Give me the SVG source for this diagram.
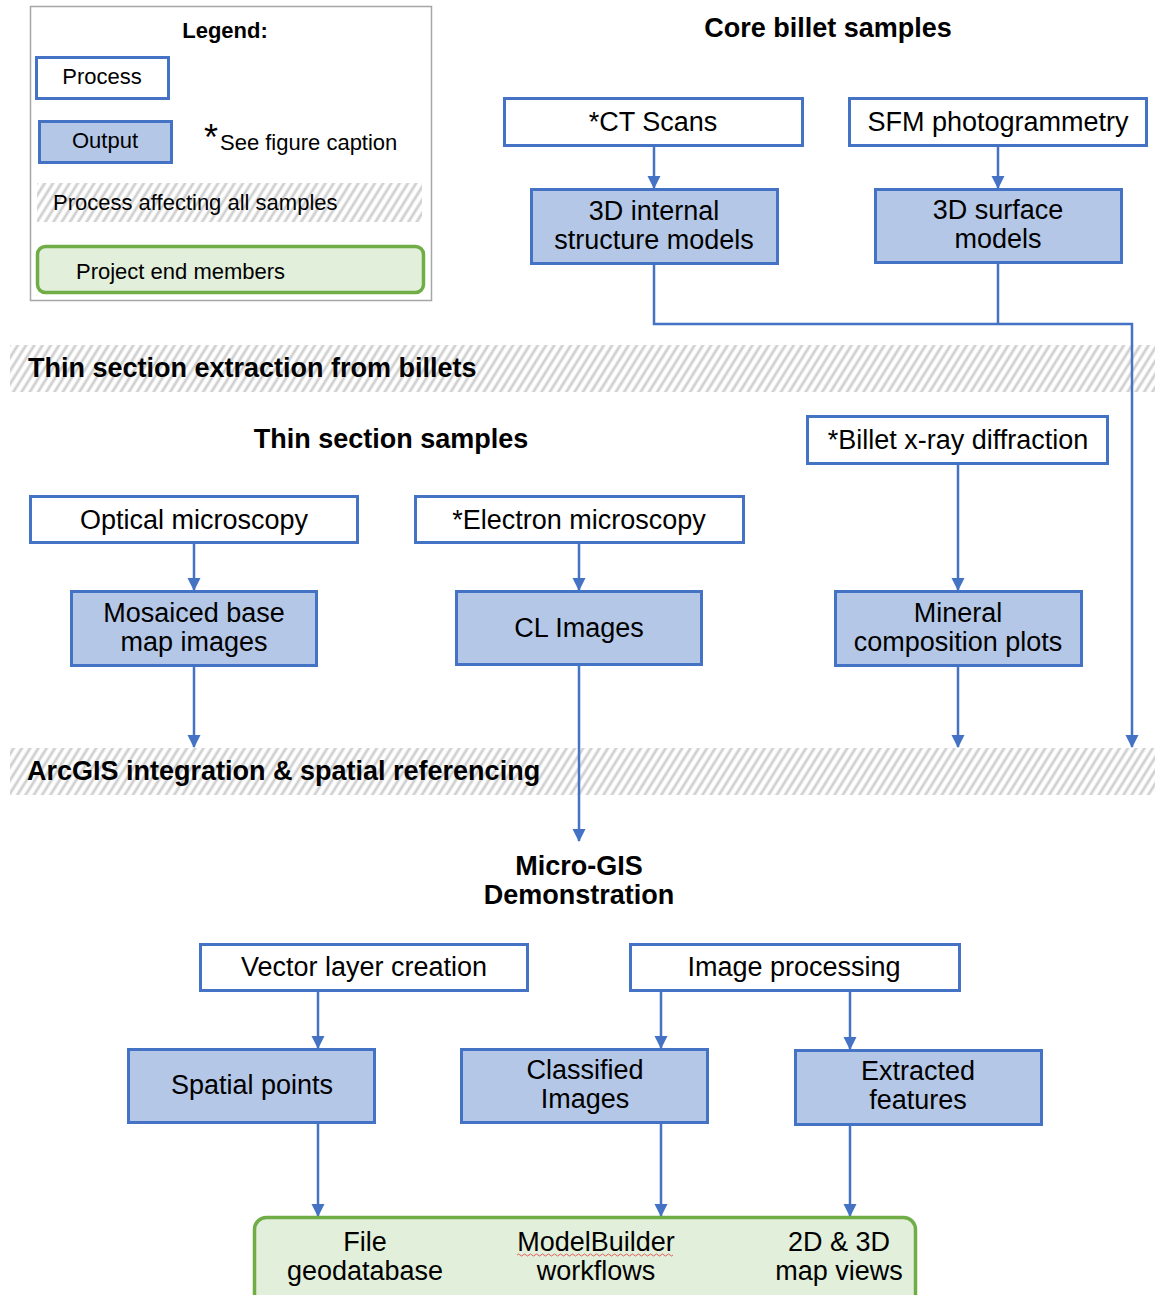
<svg xmlns="http://www.w3.org/2000/svg" width="1155" height="1295" viewBox="0 0 1155 1295">
<style>
.proc{fill:#fff;stroke:#4472C4;stroke-width:3}
.out{fill:#B4C7E7;stroke:#4472C4;stroke-width:3}
.end{fill:#E2EFDA;stroke:#70AD47;stroke-width:3.5}
.t{font-family:"Liberation Sans",Arial,sans-serif;font-size:27px;fill:#000;text-anchor:middle}
.lt{font-family:"Liberation Sans",Arial,sans-serif;font-size:22px;fill:#000}
.h{font-family:"Liberation Sans",Arial,sans-serif;font-size:27px;font-weight:bold;fill:#000}
.h2{font-family:"Liberation Sans",Arial,sans-serif;font-size:27px;font-weight:bold;fill:#000;text-anchor:middle}
.c{fill:none;stroke:#4472C4;stroke-width:2.5}
</style>
<defs>
<pattern id="hatch" patternUnits="userSpaceOnUse" width="7" height="7" patternTransform="rotate(32)">
<rect width="7" height="7" fill="#fff"/>
<line x1="2" y1="0" x2="2" y2="7" stroke="#d0d0d0" stroke-width="2.8"/>
</pattern>
<marker id="ah" markerUnits="userSpaceOnUse" markerWidth="14" markerHeight="14" refX="12" refY="6.5" orient="auto">
<path d="M0,0 L13,6.5 L0,13 Z" fill="#4472C4"/>
</marker>
</defs>

<g id="legend">
<rect x="30.5" y="6.5" width="401" height="294" fill="#fff" stroke="#a6a6a6" stroke-width="1.5"/>
<text class="lt" x="225" y="38" text-anchor="middle" font-weight="bold">Legend:</text>
<rect class="proc" x="36.5" y="57.5" width="132" height="41"/>
<text class="lt" x="102" y="84" text-anchor="middle">Process</text>
<rect class="out" x="39.5" y="121.5" width="132" height="41"/>
<text class="lt" x="105" y="148" text-anchor="middle">Output</text>
<text class="lt" x="204" y="150" style="font-size:36px">*</text>
<text class="lt" x="220" y="150">See figure caption</text>
<rect x="37" y="183" width="385" height="39" fill="url(#hatch)"/>
<text class="lt" x="53" y="210">Process affecting all samples</text>
<rect class="end" x="37.5" y="246.5" width="386" height="46" rx="8"/>
<text class="lt" x="76" y="279">Project end members</text>
</g>

<g id="band1">
<rect x="10" y="345" width="1145" height="47" fill="url(#hatch)"/>
<text class="h" x="28" y="377">Thin section extraction from billets</text>
</g>
<g id="band2">
<rect x="10" y="748" width="1145" height="47" fill="url(#hatch)"/>
<text class="h" x="27" y="780">ArcGIS integration &amp; spatial referencing</text>
</g>

<g id="connectors">
<line class="c" x1="654" y1="146" x2="654" y2="188" marker-end="url(#ah)"/>
<line class="c" x1="998" y1="146" x2="998" y2="188" marker-end="url(#ah)"/>
<polyline class="c" points="654,264 654,324 1132,324 1132,747" marker-end="url(#ah)"/>
<line class="c" x1="998" y1="263" x2="998" y2="324"/>
<line class="c" x1="194" y1="543" x2="194" y2="590" marker-end="url(#ah)"/>
<line class="c" x1="579" y1="543" x2="579" y2="590" marker-end="url(#ah)"/>
<line class="c" x1="958" y1="464" x2="958" y2="590" marker-end="url(#ah)"/>
<line class="c" x1="194" y1="666" x2="194" y2="747" marker-end="url(#ah)"/>
<line class="c" x1="958" y1="666" x2="958" y2="747" marker-end="url(#ah)"/>
<line class="c" x1="579" y1="665" x2="579" y2="841" marker-end="url(#ah)"/>
<line class="c" x1="318" y1="991" x2="318" y2="1048" marker-end="url(#ah)"/>
<line class="c" x1="661" y1="991" x2="661" y2="1048" marker-end="url(#ah)"/>
<line class="c" x1="850" y1="991" x2="850" y2="1049" marker-end="url(#ah)"/>
<line class="c" x1="318" y1="1123" x2="318" y2="1216" marker-end="url(#ah)"/>
<line class="c" x1="661" y1="1123" x2="661" y2="1216" marker-end="url(#ah)"/>
<line class="c" x1="850" y1="1125" x2="850" y2="1216" marker-end="url(#ah)"/>
</g>

<g id="title-core">
<text class="h2" x="828" y="37">Core billet samples</text>
</g>
<g id="ct-scans">
<rect class="proc" x="504.5" y="98.5" width="298" height="47"/>
<text class="t" x="653" y="131">*CT Scans</text>
</g>
<g id="sfm">
<rect class="proc" x="849.5" y="98.5" width="297" height="47"/>
<text class="t" x="998" y="131">SFM photogrammetry</text>
</g>
<g id="internal-models">
<rect class="out" x="531.5" y="189.5" width="246" height="74"/>
<text class="t" x="654" y="220">3D internal</text>
<text class="t" x="654" y="249">structure models</text>
</g>
<g id="surface-models">
<rect class="out" x="875.5" y="189.5" width="246" height="73"/>
<text class="t" x="998" y="219">3D surface</text>
<text class="t" x="998" y="248">models</text>
</g>

<g id="title-thin">
<text class="h2" x="391" y="448">Thin section samples</text>
</g>
<g id="xrd">
<rect class="proc" x="807.5" y="416.5" width="300" height="47"/>
<text class="t" x="958" y="449">*Billet x-ray diffraction</text>
</g>
<g id="optical">
<rect class="proc" x="30.5" y="496.5" width="327" height="46"/>
<text class="t" x="194" y="529">Optical microscopy</text>
</g>
<g id="electron">
<rect class="proc" x="415.5" y="496.5" width="328" height="46"/>
<text class="t" x="579" y="529">*Electron microscopy</text>
</g>
<g id="mosaic">
<rect class="out" x="71.5" y="591.5" width="245" height="74"/>
<text class="t" x="194" y="622">Mosaiced base</text>
<text class="t" x="194" y="651">map images</text>
</g>
<g id="cl-images">
<rect class="out" x="456.5" y="591.5" width="245" height="73"/>
<text class="t" x="579" y="637">CL Images</text>
</g>
<g id="mineral">
<rect class="out" x="835.5" y="591.5" width="246" height="74"/>
<text class="t" x="958" y="622">Mineral</text>
<text class="t" x="958" y="651">composition plots</text>
</g>

<g id="micro-gis">
<text class="h2" x="579" y="875">Micro-GIS</text>
<text class="h2" x="579" y="904">Demonstration</text>
</g>
<g id="vector">
<rect class="proc" x="200.5" y="944.5" width="327" height="46"/>
<text class="t" x="364" y="976">Vector layer creation</text>
</g>
<g id="imgproc">
<rect class="proc" x="630.5" y="944.5" width="329" height="46"/>
<text class="t" x="794" y="976">Image processing</text>
</g>
<g id="spatial-points">
<rect class="out" x="128.5" y="1049.5" width="246" height="73"/>
<text class="t" x="252" y="1094">Spatial points</text>
</g>
<g id="classified">
<rect class="out" x="461.5" y="1049.5" width="246" height="73"/>
<text class="t" x="585" y="1079">Classified</text>
<text class="t" x="585" y="1108">Images</text>
</g>
<g id="extracted">
<rect class="out" x="795.5" y="1050.5" width="246" height="74"/>
<text class="t" x="918" y="1080">Extracted</text>
<text class="t" x="918" y="1109">features</text>
</g>

<g id="end-members">
<rect class="end" x="254.5" y="1217.5" width="661" height="90" rx="12"/>
<text class="t" x="365" y="1251">File</text>
<text class="t" x="365" y="1280">geodatabase</text>
<text class="t" x="596" y="1251">ModelBuilder</text>
<text class="t" x="596" y="1280">workflows</text>
<path d="M517,1255 q1.5,-2 3,0 t3,0 t3,0 t3,0 t3,0 t3,0 t3,0 t3,0 t3,0 t3,0 t3,0 t3,0 t3,0 t3,0 t3,0 t3,0 t3,0 t3,0 t3,0 t3,0 t3,0 t3,0 t3,0 t3,0 t3,0 t3,0 t3,0 t3,0 t3,0 t3,0 t3,0 t3,0 t3,0 t3,0 t3,0 t3,0 t3,0 t3,0 t3,0 t3,0 t3,0 t3,0 t3,0 t3,0 t3,0 t3,0 t3,0 t3,0 t3,0 t3,0 t3,0 t3,0" fill="none" stroke="#e05050" stroke-width="0.9"/>
<text class="t" x="839" y="1251">2D &amp; 3D</text>
<text class="t" x="839" y="1280">map views</text>
</g>
</svg>
